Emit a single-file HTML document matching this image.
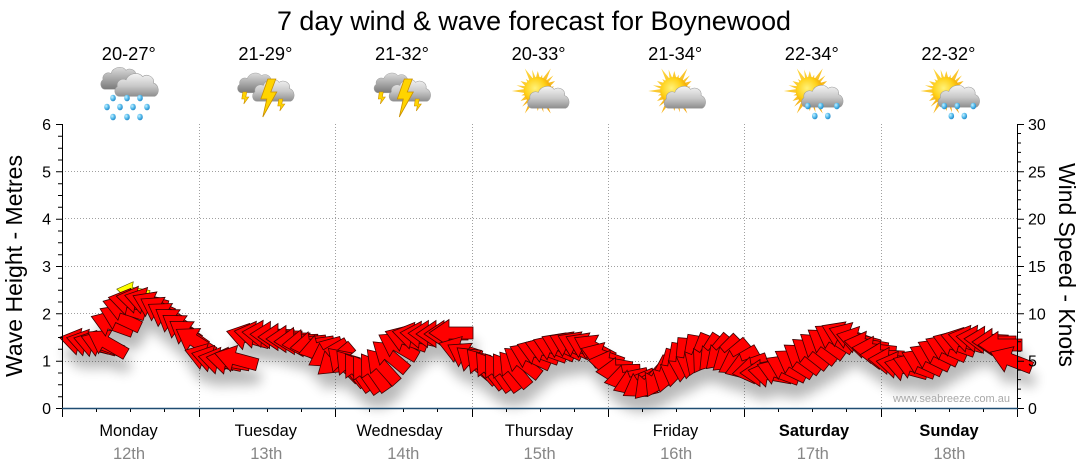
<!DOCTYPE html>
<html><head><meta charset="utf-8">
<style>
html,body{margin:0;padding:0;background:#fff;}
svg{display:block;}
text{font-family:"Liberation Sans",Arial,sans-serif;}
</style></head>
<body>
<svg width="1080" height="475" viewBox="0 0 1080 475" xmlns="http://www.w3.org/2000/svg">
<defs>
  <linearGradient id="cg" x1="0" y1="0" x2="0" y2="1">
    <stop offset="0" stop-color="#f4f4f4"/><stop offset="0.55" stop-color="#c8c8c8"/><stop offset="1" stop-color="#8e8e8e"/>
  </linearGradient>
  <linearGradient id="cg2" x1="0" y1="0" x2="0" y2="1">
    <stop offset="0" stop-color="#dcdcdc"/><stop offset="1" stop-color="#7a7a7a"/>
  </linearGradient>
  <radialGradient id="sg" cx="0.4" cy="0.4" r="0.6">
    <stop offset="0" stop-color="#fff27a"/><stop offset="0.6" stop-color="#ffd21a"/><stop offset="1" stop-color="#f0a000"/>
  </radialGradient>
  <linearGradient id="rg" x1="0" y1="0" x2="1" y2="1">
    <stop offset="0" stop-color="#ffe14a"/><stop offset="1" stop-color="#f29a00"/>
  </linearGradient>
  <radialGradient id="dg" cx="0.35" cy="0.35" r="0.7">
    <stop offset="0" stop-color="#c8f0ff"/><stop offset="0.5" stop-color="#5cc0ef"/><stop offset="1" stop-color="#1f86c6"/>
  </radialGradient>
  <path id="cloud" d="M5,24 C1,24 -1,18 3,15 C2,10 7,7 11,9 C13,3 22,1 26,6 C30,3 37,6 36,12 C41,13 42,22 37,24 Z"/>
  <polygon id="rays" points="12.84,-2.03 26,0 12.84,2.03 12.14,4.66 17.32,10 10.10,8.18 8.18,10.10 13,22.52 4.66,12.14 2.03,12.84 0,20 -2.03,12.84 -4.66,12.14 -13,22.52 -8.18,10.10 -10.10,8.18 -17.32,10 -12.14,4.66 -12.84,2.03 -26,0 -12.84,-2.03 -12.14,-4.66 -17.32,-10 -10.10,-8.18 -8.18,-10.10 -13,-22.52 -4.66,-12.14 -2.03,-12.84 0,-20 2.03,-12.84 4.66,-12.14 13,-22.52 8.18,-10.10 10.10,-8.18 17.32,-10 12.14,-4.66"/>
  <ellipse id="drop" cx="0" cy="0" rx="2.8" ry="3.3"/>
  <polygon id="ar" points="22,0 2,-13.5 2,-6 -22,-6 -22,6 2,6 2,13.5"/>
  <filter id="sh" x="-5%" y="-40%" width="110%" height="200%">
    <feGaussianBlur in="SourceAlpha" stdDeviation="6"/>
    <feOffset dx="3" dy="14"/>
    <feComponentTransfer><feFuncA type="linear" slope="0.28"/></feComponentTransfer>
    <feMerge><feMergeNode/><feMergeNode in="SourceGraphic"/></feMerge>
  </filter>
</defs>
<rect width="1080" height="475" fill="#fff"/>

<text x="534" y="30" font-size="27" text-anchor="middle" textLength="514" lengthAdjust="spacingAndGlyphs">7 day wind &amp; wave forecast for Boynewood</text>

<g font-size="18" text-anchor="middle">
<text x="128.8" y="60" textLength="54" lengthAdjust="spacingAndGlyphs">20-27°</text>
<text x="265.4" y="60" textLength="54" lengthAdjust="spacingAndGlyphs">21-29°</text>
<text x="402" y="60" textLength="54" lengthAdjust="spacingAndGlyphs">21-32°</text>
<text x="538.6" y="60" textLength="54" lengthAdjust="spacingAndGlyphs">20-33°</text>
<text x="675.2" y="60" textLength="54" lengthAdjust="spacingAndGlyphs">21-34°</text>
<text x="811.8" y="60" textLength="54" lengthAdjust="spacingAndGlyphs">22-34°</text>
<text x="948.4" y="60" textLength="54" lengthAdjust="spacingAndGlyphs">22-32°</text>
</g>

<g>
  <use href="#cloud" transform="translate(100,64) scale(1.0,1.05)" fill="url(#cg2)" stroke="#9a9a9a" stroke-width="0.5"/>
  <use href="#cloud" transform="translate(114,70) scale(1.1,1.1)" fill="url(#cg)" stroke="#9a9a9a" stroke-width="0.5"/>
  <g fill="url(#dg)">
    <use href="#drop" x="113" y="98"/><use href="#drop" x="127" y="98"/><use href="#drop" x="140" y="98"/>
    <use href="#drop" x="107" y="107"/><use href="#drop" x="120" y="107"/><use href="#drop" x="133" y="107"/><use href="#drop" x="147" y="107"/>
    <use href="#drop" x="113" y="117"/><use href="#drop" x="127" y="117"/><use href="#drop" x="140" y="117"/>
  </g>
</g>
<g transform="translate(266.8,0)">
  <use href="#cloud" transform="translate(-30,70) scale(0.95,0.95)" fill="url(#cg2)" stroke="#9a9a9a" stroke-width="0.5"/>
  <use href="#cloud" transform="translate(-15,76) scale(1.05,1.05)" fill="url(#cg)" stroke="#9a9a9a" stroke-width="0.5"/>
  <polygon points="1,79 9,79 4,92 10,92 -4,117 0,99 -6,99" fill="#ffd400" stroke="#c98f00" stroke-width="0.8"/>
  <polygon points="-24,92 -20,92 -21,97 -18,97 -23,104 -22,99 -25,99" fill="#ffd400" stroke="#c98f00" stroke-width="0.6"/>
  <polygon points="12,99 16,99 15,104 18,104 13,111 14,106 11,106" fill="#ffd400" stroke="#c98f00" stroke-width="0.6"/>
</g>
<g transform="translate(403.3,0)">
  <use href="#cloud" transform="translate(-30,70) scale(0.95,0.95)" fill="url(#cg2)" stroke="#9a9a9a" stroke-width="0.5"/>
  <use href="#cloud" transform="translate(-15,76) scale(1.05,1.05)" fill="url(#cg)" stroke="#9a9a9a" stroke-width="0.5"/>
  <polygon points="1,79 9,79 4,92 10,92 -4,117 0,99 -6,99" fill="#ffd400" stroke="#c98f00" stroke-width="0.8"/>
  <polygon points="-24,92 -20,92 -21,97 -18,97 -23,104 -22,99 -25,99" fill="#ffd400" stroke="#c98f00" stroke-width="0.6"/>
  <polygon points="12,99 16,99 15,104 18,104 13,111 14,106 11,106" fill="#ffd400" stroke="#c98f00" stroke-width="0.6"/>
</g>
<g transform="translate(539.8,0)">
  <use href="#rays" transform="translate(-2,91)" fill="url(#rg)"/>
  <use href="#rays" transform="translate(-2,91) rotate(15) scale(0.85)" fill="url(#rg)"/>
  <circle cx="-2" cy="91" r="14" fill="url(#sg)"/>
  <use href="#cloud" transform="translate(-13,83) scale(1.05)" fill="url(#cg)" stroke="#9a9a9a" stroke-width="0.5"/>
</g>
<g transform="translate(676.3,0)">
  <use href="#rays" transform="translate(-2,91)" fill="url(#rg)"/>
  <use href="#rays" transform="translate(-2,91) rotate(15) scale(0.85)" fill="url(#rg)"/>
  <circle cx="-2" cy="91" r="14" fill="url(#sg)"/>
  <use href="#cloud" transform="translate(-13,83) scale(1.05)" fill="url(#cg)" stroke="#9a9a9a" stroke-width="0.5"/>
</g>
<g transform="translate(812.8,0)">
  <use href="#rays" transform="translate(-3,91)" fill="url(#rg)"/>
  <use href="#rays" transform="translate(-3,91) rotate(15) scale(0.85)" fill="url(#rg)"/>
  <circle cx="-3" cy="91" r="14" fill="url(#sg)"/>
  <use href="#cloud" transform="translate(-12,82) scale(1.05)" fill="url(#cg)" stroke="#9a9a9a" stroke-width="0.5"/>
  <g fill="url(#dg)">
    <use href="#drop" x="-5" y="106"/><use href="#drop" x="8" y="106"/><use href="#drop" x="24" y="106"/>
    <use href="#drop" x="2" y="116"/><use href="#drop" x="15" y="116"/>
  </g>
</g>
<g transform="translate(949.3,0)">
  <use href="#rays" transform="translate(-3,91)" fill="url(#rg)"/>
  <use href="#rays" transform="translate(-3,91) rotate(15) scale(0.85)" fill="url(#rg)"/>
  <circle cx="-3" cy="91" r="14" fill="url(#sg)"/>
  <use href="#cloud" transform="translate(-12,82) scale(1.05)" fill="url(#cg)" stroke="#9a9a9a" stroke-width="0.5"/>
  <g fill="url(#dg)">
    <use href="#drop" x="-5" y="106"/><use href="#drop" x="8" y="106"/><use href="#drop" x="24" y="106"/>
    <use href="#drop" x="2" y="116"/><use href="#drop" x="15" y="116"/>
  </g>
</g>

<g stroke="#a0a0a0" stroke-width="1" stroke-dasharray="1,2" fill="none">
  <path d="M62 361.5H1017M62 313.5H1017M62 266.5H1017M62 218.5H1017M62 171.5H1017"/>
  <path d="M199.5 124V408M335.5 124V408M472.5 124V408M608.5 124V408M744.5 124V408M881.5 124V408"/>
</g>

<g filter="url(#sh)" fill="#ff0000" stroke="#3a0000" stroke-width="0.8">
<use href="#ar" transform="translate(81 342) rotate(192)"/>
<use href="#ar" transform="translate(88 343) rotate(194)"/>
<use href="#ar" transform="translate(95 344) rotate(196)"/>
<use href="#ar" transform="translate(102 344) rotate(200)"/>
<use href="#ar" transform="translate(107 343) rotate(210)"/>
<use href="#ar" transform="translate(112 324) rotate(200)"/>
<use href="#ar" transform="translate(120 318) rotate(205)"/>
<use href="#ar" transform="translate(124 308) rotate(198)"/>
<use href="#ar" transform="translate(133 292) rotate(190) scale(0.75)" fill="#ffff00" stroke="#555500"/>
<use href="#ar" transform="translate(130 302) rotate(192)"/>
<use href="#ar" transform="translate(138 300) rotate(190)"/>
<use href="#ar" transform="translate(146 301) rotate(195)"/>
<use href="#ar" transform="translate(153 305) rotate(205)"/>
<use href="#ar" transform="translate(160 310) rotate(210)"/>
<use href="#ar" transform="translate(167 316) rotate(212)"/>
<use href="#ar" transform="translate(174 322) rotate(215)"/>
<use href="#ar" transform="translate(181 328) rotate(215)"/>
<use href="#ar" transform="translate(188 334) rotate(215)"/>
<use href="#ar" transform="translate(195 341) rotate(212)"/>
<use href="#ar" transform="translate(206 357) rotate(198)"/>
<use href="#ar" transform="translate(213 359) rotate(195)"/>
<use href="#ar" transform="translate(220 361) rotate(192)"/>
<use href="#ar" transform="translate(228 361) rotate(190)"/>
<use href="#ar" transform="translate(236 359) rotate(195)"/>
<use href="#ar" transform="translate(248 337) rotate(195)"/>
<use href="#ar" transform="translate(256 335) rotate(190)"/>
<use href="#ar" transform="translate(264 334) rotate(185)"/>
<use href="#ar" transform="translate(272 335) rotate(182)"/>
<use href="#ar" transform="translate(280 337) rotate(180)"/>
<use href="#ar" transform="translate(288 339) rotate(180)"/>
<use href="#ar" transform="translate(296 341) rotate(178)"/>
<use href="#ar" transform="translate(304 343) rotate(175)"/>
<use href="#ar" transform="translate(312 345) rotate(172)"/>
<use href="#ar" transform="translate(320 348) rotate(165)"/>
<use href="#ar" transform="translate(328 354) rotate(150)"/>
<use href="#ar" transform="translate(335 360) rotate(140)"/>
<use href="#ar" transform="translate(344 364) rotate(225)"/>
<use href="#ar" transform="translate(351 368) rotate(230)"/>
<use href="#ar" transform="translate(358 372) rotate(235)"/>
<use href="#ar" transform="translate(366 374) rotate(235)"/>
<use href="#ar" transform="translate(374 372) rotate(235)"/>
<use href="#ar" transform="translate(382 366) rotate(228)"/>
<use href="#ar" transform="translate(390 356) rotate(220)"/>
<use href="#ar" transform="translate(398 346) rotate(210)"/>
<use href="#ar" transform="translate(406 339) rotate(200)"/>
<use href="#ar" transform="translate(414 336) rotate(192)"/>
<use href="#ar" transform="translate(422 335) rotate(186)"/>
<use href="#ar" transform="translate(430 334) rotate(182)"/>
<use href="#ar" transform="translate(438 334) rotate(180)"/>
<use href="#ar" transform="translate(446 334) rotate(180)"/>
<use href="#ar" transform="translate(451 333) rotate(180)"/>
<use href="#ar" transform="translate(460 350) rotate(198)"/>
<use href="#ar" transform="translate(467 356) rotate(210)"/>
<use href="#ar" transform="translate(474 362) rotate(220)"/>
<use href="#ar" transform="translate(482 366) rotate(228)"/>
<use href="#ar" transform="translate(490 370) rotate(232)"/>
<use href="#ar" transform="translate(498 372) rotate(235)"/>
<use href="#ar" transform="translate(506 372) rotate(235)"/>
<use href="#ar" transform="translate(514 369) rotate(230)"/>
<use href="#ar" transform="translate(522 362) rotate(218)"/>
<use href="#ar" transform="translate(530 356) rotate(205)"/>
<use href="#ar" transform="translate(538 352) rotate(200)"/>
<use href="#ar" transform="translate(546 350) rotate(200)"/>
<use href="#ar" transform="translate(554 348) rotate(202)"/>
<use href="#ar" transform="translate(562 346) rotate(205)"/>
<use href="#ar" transform="translate(570 345) rotate(205)"/>
<use href="#ar" transform="translate(578 345) rotate(205)"/>
<use href="#ar" transform="translate(586 346) rotate(205)"/>
<use href="#ar" transform="translate(594 348) rotate(208)"/>
<use href="#ar" transform="translate(602 356) rotate(200)"/>
<use href="#ar" transform="translate(610 364) rotate(190)"/>
<use href="#ar" transform="translate(618 371) rotate(178)"/>
<use href="#ar" transform="translate(626 378) rotate(168)"/>
<use href="#ar" transform="translate(634 382) rotate(158)"/>
<use href="#ar" transform="translate(642 384) rotate(148)"/>
<use href="#ar" transform="translate(650 382) rotate(132)"/>
<use href="#ar" transform="translate(658 377) rotate(118)"/>
<use href="#ar" transform="translate(666 371) rotate(106)"/>
<use href="#ar" transform="translate(674 365) rotate(100)"/>
<use href="#ar" transform="translate(682 360) rotate(95)"/>
<use href="#ar" transform="translate(690 357) rotate(100)"/>
<use href="#ar" transform="translate(698 355) rotate(112)"/>
<use href="#ar" transform="translate(706 354) rotate(122)"/>
<use href="#ar" transform="translate(714 353) rotate(130)"/>
<use href="#ar" transform="translate(722 353) rotate(135)"/>
<use href="#ar" transform="translate(730 356) rotate(140)"/>
<use href="#ar" transform="translate(738 361) rotate(150)"/>
<use href="#ar" transform="translate(746 366) rotate(160)"/>
<use href="#ar" transform="translate(754 370) rotate(170)"/>
<use href="#ar" transform="translate(762 373) rotate(180)"/>
<use href="#ar" transform="translate(770 374) rotate(190)"/>
<use href="#ar" transform="translate(778 372) rotate(200)"/>
<use href="#ar" transform="translate(786 368) rotate(206)"/>
<use href="#ar" transform="translate(794 363) rotate(212)"/>
<use href="#ar" transform="translate(802 358) rotate(216)"/>
<use href="#ar" transform="translate(810 353) rotate(218)"/>
<use href="#ar" transform="translate(818 348) rotate(218)"/>
<use href="#ar" transform="translate(826 343) rotate(216)"/>
<use href="#ar" transform="translate(834 338) rotate(212)"/>
<use href="#ar" transform="translate(842 335) rotate(205)"/>
<use href="#ar" transform="translate(850 336) rotate(200)"/>
<use href="#ar" transform="translate(858 340) rotate(195)"/>
<use href="#ar" transform="translate(866 345) rotate(190)"/>
<use href="#ar" transform="translate(874 350) rotate(186)"/>
<use href="#ar" transform="translate(882 356) rotate(183)"/>
<use href="#ar" transform="translate(890 361) rotate(185)"/>
<use href="#ar" transform="translate(898 365) rotate(190)"/>
<use href="#ar" transform="translate(906 368) rotate(195)"/>
<use href="#ar" transform="translate(914 366) rotate(200)"/>
<use href="#ar" transform="translate(922 362) rotate(205)"/>
<use href="#ar" transform="translate(930 357) rotate(206)"/>
<use href="#ar" transform="translate(938 352) rotate(206)"/>
<use href="#ar" transform="translate(946 348) rotate(204)"/>
<use href="#ar" transform="translate(954 344) rotate(200)"/>
<use href="#ar" transform="translate(962 341) rotate(196)"/>
<use href="#ar" transform="translate(970 339) rotate(192)"/>
<use href="#ar" transform="translate(978 339) rotate(187)"/>
<use href="#ar" transform="translate(986 340) rotate(183)"/>
<use href="#ar" transform="translate(994 342) rotate(180)"/>
<use href="#ar" transform="translate(1000 345) rotate(180)"/>
<use href="#ar" transform="translate(1011 360) rotate(201)"/>
</g>

<text x="1010" y="402" font-size="11" fill="#a8a8a8" text-anchor="end" textLength="117" lengthAdjust="spacingAndGlyphs">www.seabreeze.com.au</text>

<g stroke="#000" stroke-width="1" fill="none">
  <path d="M62.5 124V408M1017.5 124V408"/>
  <path d="M56 124.5H62M58 136.3H62M58 148.2H62M58 160H62M56 171.8H62M58 183.7H62M58 195.5H62M58 207.3H62M56 219.2H62M58 231H62M58 242.8H62M58 254.7H62M56 266.5H62M58 278.3H62M58 290.2H62M58 302H62M56 313.8H62M58 325.7H62M58 337.5H62M58 349.3H62M56 361.2H62M58 373H62M58 384.8H62M58 396.7H62M56 408.5H62"/>
  <path d="M1017 124.5H1024M1017 133.5H1021M1017 143H1021M1017 152.4H1021M1017 161.9H1021M1017 171.8H1024M1017 180.8H1021M1017 190.3H1021M1017 199.7H1021M1017 209.2H1021M1017 219.2H1024M1017 228.1H1021M1017 237.6H1021M1017 247.1H1021M1017 256.5H1021M1017 266.5H1024M1017 275.5H1021M1017 284.9H1021M1017 294.4H1021M1017 303.9H1021M1017 313.8H1024M1017 322.8H1021M1017 332.3H1021M1017 341.7H1021M1017 351.2H1021M1017 361.2H1024M1017 370.1H1021M1017 379.6H1021M1017 389.1H1021M1017 398.5H1021M1017 408.5H1024"/>
  <path d="M62.5 408V417M199.5 408V417M335.5 408V417M472.5 408V417M608.5 408V417M744.5 408V417M881.5 408V417M1017.5 408V417"/>
  <path d="M96.5 408V412M130.5 408V412M164.5 408V412M233.5 408V412M267.5 408V412M301.5 408V412M369.5 408V412M403.5 408V412M437.5 408V412M506.5 408V412M540.5 408V412M574.5 408V412M642.5 408V412M676.5 408V412M710.5 408V412M778.5 408V412M812.5 408V412M846.5 408V412M915.5 408V412M949.5 408V412M983.5 408V412"/>
</g>
<path d="M62 408.5H1018" stroke="#1f4d72" stroke-width="1.6"/>

<g font-size="16" text-anchor="end">
<text x="51" y="130">6</text><text x="51" y="177.3">5</text><text x="51" y="224.7">4</text><text x="51" y="272">3</text><text x="51" y="319.3">2</text><text x="51" y="366.7">1</text><text x="51" y="414">0</text>
</g>
<g font-size="16">
<text x="1028" y="130">30</text><text x="1028" y="177.3">25</text><text x="1028" y="224.7">20</text><text x="1028" y="272">15</text><text x="1028" y="319.3">10</text><text x="1028" y="366.7">5</text><text x="1028" y="414">0</text>
</g>
<text transform="translate(22,266) rotate(-90)" font-size="23" text-anchor="middle" textLength="222" lengthAdjust="spacingAndGlyphs">Wave Height - Metres</text>
<text transform="translate(1059,265) rotate(90)" font-size="23" text-anchor="middle" textLength="204" lengthAdjust="spacingAndGlyphs">Wind Speed - Knots</text>

<g font-size="16.4" text-anchor="middle">
<text x="128.5" y="436">Monday</text>
<text x="265.8" y="436">Tuesday</text>
<text x="399.5" y="436">Wednesday</text>
<text x="539" y="436">Thursday</text>
<text x="675.5" y="436">Friday</text>
<text x="814" y="436" font-weight="bold">Saturday</text>
<text x="949" y="436" font-weight="bold">Sunday</text>
</g>
<g font-size="16.5" fill="#868686" text-anchor="middle" style="font-family:'DejaVu Sans',sans-serif">
<text x="129" y="459">12th</text>
<text x="266.3" y="459">13th</text>
<text x="403.3" y="459">14th</text>
<text x="539.6" y="459">15th</text>
<text x="676.2" y="459">16th</text>
<text x="812.8" y="459">17th</text>
<text x="949.4" y="459">18th</text>
</g>
</svg>
</body></html>
